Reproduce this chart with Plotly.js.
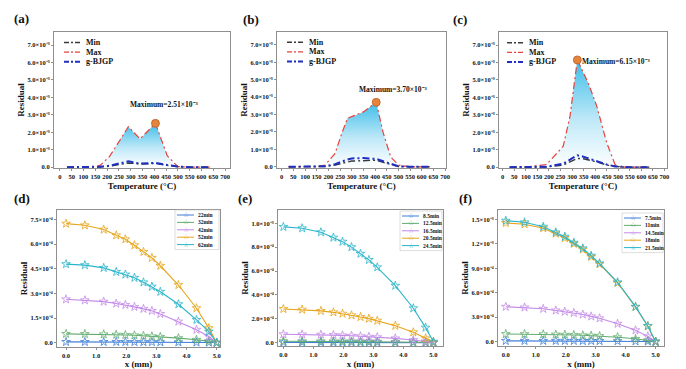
<!DOCTYPE html>
<html><head><meta charset="utf-8">
<script src="https://cdn.plot.ly/plotly-3.0.1.min.js"></script>
<style>html,body{margin:0;padding:0;background:#fff}#chart{width:686px;height:369px}</style>
</head><body><div id="chart"></div>
<script>
// ---------------- DATA ----------------
const topSeries = ['Min', 'Max', 'g-BJGP'];
const tempTicks = [0, 50, 100, 150, 200, 250, 300, 350, 400, 450, 500, 550, 600, 650, 700];

const tempA = [30, 100, 150, 170, 210, 250, 290, 340, 405, 455, 500, 550, 600, 635];
const maxA  = [0, 0, 0.00002, 0.0001, 0.0006, 0.00145, 0.00232, 0.00162, 0.00251, 0.00065, 0.00003, 0, 0, 0];
const minA  = [0, 0, 0, 0.00001, 0.00005, 0.00014, 0.00024, 0.00018, 0.00021, 0.0001, 0.00002, 0, 0, 0];
const bjgpA = [0, 0, 0, 0.00002, 0.00008, 0.0002, 0.00033, 0.0002, 0.00025, 0.00012, 0.00003, 0, 0, 0];

const tempB = [30, 100, 150, 186, 229, 257, 282, 300, 350, 405, 435, 467, 500, 550, 600, 635];
const maxB  = [0, 0, 0.00001, 0.0001, 0.00077, 0.0019, 0.00278, 0.00288, 0.00315, 0.0037, 0.00195, 0.00057, 0.0001, 0, 0, 0];
const minB  = [0, 0, 0, 0.00002, 0.0001, 0.0002, 0.0003, 0.00033, 0.00035, 0.00038, 0.00025, 0.00012, 0.00002, 0, 0, 0];
const bjgpB = [0, 0, 0, 0.00003, 0.00015, 0.0003, 0.00042, 0.00048, 0.0005, 0.00045, 0.00032, 0.00015, 0.00003, 0, 0, 0];

const tempC = [30, 100, 132, 190, 262, 291, 323, 349, 371, 407, 450, 486, 510, 550, 600, 635];
const maxC  = [0, 0, 0.00006, 0.00015, 0.0012, 0.0029, 0.00615, 0.0054, 0.0048, 0.0035, 0.0014, 0.00015, 0, 0, 0, 0];
const minC  = [0, 0, 0, 0.00001, 0.00012, 0.00032, 0.0005, 0.00048, 0.00042, 0.0003, 0.00012, 0.00003, 0.00001, 0, 0, 0];
const bjgpC = [0, 0, 0, 0.00002, 0.0002, 0.00045, 0.00068, 0.0006, 0.0005, 0.00035, 0.00015, 0.00004, 0.00001, 0, 0, 0];

const yTicksTop = [0, 0.001, 0.002, 0.003, 0.004, 0.005, 0.006, 0.007];
const yTextTop  = ['0.0', '1.0×10⁻³', '2.0×10⁻³', '3.0×10⁻³', '4.0×10⁻³', '5.0×10⁻³', '6.0×10⁻³', '7.0×10⁻³'];

const xPos = [0, 0.625, 1.25, 1.667, 1.97, 2.27, 2.57, 2.85, 3.13, 3.73, 4.33, 4.74, 5.0];
const xTicksBot = [0, 1, 2, 3, 4, 5];
const xTextBot = ['0.0', '1.0', '2.0', '3.0', '4.0', '5.0'];

const namesD = ['22min', '32min', '42min', '52min', '62min'];
const d22 = [0.000005, 0.000005, 0.000005, 0.000005, 0.000005, 0.0000045, 0.000004, 0.000004, 0.0000035, 0.000003, 0.000002, 0.000001, 0];
const d32 = [0.000054, 0.000053, 0.000051, 0.000049, 0.000047, 0.000045, 0.000042, 0.000039, 0.000036, 0.000028, 0.000018, 0.00001, 0];
const d42 = [0.000264, 0.000258, 0.00025, 0.000238, 0.00023, 0.000218, 0.000206, 0.000194, 0.000175, 0.000129, 0.000079, 0.000038, 0];
const d52 = [0.000724, 0.000714, 0.000688, 0.000653, 0.000629, 0.000593, 0.000552, 0.000516, 0.000468, 0.000351, 0.00021, 0.000089, 0];
const d62 = [0.000478, 0.000472, 0.000455, 0.000431, 0.000415, 0.000395, 0.000367, 0.000341, 0.00031, 0.000234, 0.000139, 0.000068, 0];
const yTicksD = [0, 0.00015, 0.0003, 0.00045, 0.0006, 0.00075];
const yTextD = ['0.0', '1.5×10⁻⁴', '3.0×10⁻⁴', '4.5×10⁻⁴', '6.0×10⁻⁴', '7.5×10⁻⁴'];

const namesE = ['8.5min', '12.5min', '16.5min', '20.5min', '24.5min'];
const e85  = [0.000002, 0.000002, 0.000002, 0.000002, 0.000002, 0.000002, 0.000002, 0.000002, 0.0000015, 0.0000012, 0.000001, 0.0000005, 0];
const e125 = [0.000012, 0.000012, 0.000011, 0.000011, 0.00001, 0.00001, 0.000009, 0.000009, 0.000008, 0.000006, 0.000004, 0.000002, 0];
const e165 = [0.00007, 0.000069, 0.000067, 0.000064, 0.000061, 0.000058, 0.000054, 0.00005, 0.000046, 0.000036, 0.000022, 0.00001, 0];
const e205 = [0.000282, 0.000277, 0.000266, 0.000254, 0.000243, 0.000229, 0.000215, 0.000201, 0.000184, 0.000142, 0.000087, 0.000037, 0.000005];
const e245 = [0.00097, 0.000958, 0.000925, 0.00088, 0.000846, 0.0008, 0.000745, 0.000693, 0.000631, 0.000477, 0.000288, 0.000126, 0.000008];
const yTicksE = [0, 0.0002, 0.0004, 0.0006, 0.0008, 0.001];
const yTextE = ['0.0', '2.0×10⁻⁴', '4.0×10⁻⁴', '6.0×10⁻⁴', '8.0×10⁻⁴', '1.0×10⁻³'];

const namesF = ['7.5min', '11min', '14.5min', '18min', '21.5min'];
const f75  = [0.00001, 0.00001, 0.00001, 0.00001, 0.00001, 0.00001, 0.000009, 0.000009, 0.000008, 0.000007, 0.000005, 0.000003, 0];
const f11  = [0.000094, 0.000093, 0.000091, 0.000088, 0.000085, 0.000082, 0.000078, 0.000074, 0.000069, 0.000055, 0.000035, 0.000017, 0];
const f145 = [0.000428, 0.00042, 0.000403, 0.000383, 0.000368, 0.000352, 0.000333, 0.00031, 0.000287, 0.00022, 0.00014, 0.000065, 0];
const f18  = [0.001455, 0.00144, 0.00139, 0.001325, 0.00127, 0.0012, 0.00113, 0.00104, 0.00095, 0.00072, 0.000425, 0.00019, 0];
const f215 = [0.001483, 0.001463, 0.001409, 0.00134, 0.001287, 0.001213, 0.001144, 0.001054, 0.000961, 0.000728, 0.000429, 0.000192, 0];
const yTicksF = [0, 0.0003, 0.0006, 0.0009, 0.0012, 0.0015];
const yTextF = ['0.0', '3.0×10⁻⁴', '6.0×10⁻⁴', '9.0×10⁻⁴', '1.2×10⁻³', '1.5×10⁻³'];

// ---------------- STYLE ----------------
const W = 686, H = 369;
const SERIF = 'Liberation Serif, Times New Roman, serif';
const topColors = ['#3a3a3a', '#e8433d', '#1f2fc0'];
const topWidths = [1.4, 1.2, 2.0];
const DASH = '7px,3px,2px,3px';
const botColors = ['#3f7fd8', '#62ad6e', '#c48ae8', '#e6a51c', '#2ab5cb'];

const traces = [];
function topPanel(xa, ya, temp, mn, mx, bj) {
  traces.push({x: temp, y: mx, xaxis: xa, yaxis: ya, mode: 'lines', name: topSeries[1],
    line: {color: topColors[1], width: topWidths[1], dash: DASH}, fill: 'tozeroy',
    fillgradient: {type: 'vertical', colorscale: [[0, 'rgba(255,255,255,1)'], [0.45, '#bde8f8'], [1, '#3dbde9']]},
    hoverinfo: 'skip'});
  traces.push({x: temp, y: mn, xaxis: xa, yaxis: ya, mode: 'lines', name: topSeries[0],
    line: {color: topColors[0], width: topWidths[0], dash: DASH}});
  traces.push({x: temp, y: bj, xaxis: xa, yaxis: ya, mode: 'lines', name: topSeries[2],
    line: {color: topColors[2], width: topWidths[2], dash: DASH}});
  const iMax = mx.indexOf(Math.max(...mx));
  traces.push({x: [temp[iMax]], y: [mx[iMax]], xaxis: xa, yaxis: ya, mode: 'markers',
    marker: {size: 8, color: '#e5843a', line: {color: '#b8612a', width: 0.8}}});
  return mx[iMax];
}
const peakA = topPanel('x', 'y', tempA, minA, maxA, bjgpA);
const peakB = topPanel('x2', 'y2', tempB, minB, maxB, bjgpB);
const peakC = topPanel('x3', 'y3', tempC, minC, maxC, bjgpC);

function botPanel(xa, ya, names, series) {
  series.forEach((s, i) => {
    traces.push({x: xPos, y: s, xaxis: xa, yaxis: ya, mode: 'lines+markers', name: names[i],
      line: {color: botColors[i], width: 1.1},
      marker: {symbol: 'star-open', size: 6.5, color: botColors[i], line: {width: 0.8}}});
  });
}
botPanel('x4', 'y4', namesD, [d22, d32, d42, d52, d62]);
botPanel('x5', 'y5', namesE, [e85, e125, e165, e205, e245]);
botPanel('x6', 'y6', namesF, [f75, f11, f145, f18, f215]);

const tickFont = {family: SERIF, size: 6.5, color: '#111', weight: 700};
const titleFont = {family: SERIF, size: 9, color: '#111', weight: 700};
const axBase = {showgrid: false, zeroline: false, showline: true, mirror: true, linecolor: '#8f8f8f', linewidth: 1,
  ticks: 'outside', ticklen: 2, tickcolor: '#8f8f8f', tickfont: tickFont, fixedrange: true, automargin: false, tickangle: 0};

const px = v => v / W, py = v => 1 - v / H;
function xa(l, r, range, tv, tt, anchor, title) {
  return Object.assign({}, axBase, {domain: [px(l), px(r)], range: range, tickmode: 'array', tickvals: tv, ticktext: tt,
    anchor: anchor, title: {text: title, font: titleFont, standoff: 3}});
}
function ya(t, b, range, tv, tt, anchor) {
  return Object.assign({}, axBase, {domain: [py(b), py(t)], range: range, tickmode: 'array', tickvals: tv, ticktext: tt,
    anchor: anchor, title: {text: 'Residual', font: titleFont, standoff: 1}});
}
const tempText = tempTicks.map(String);

const layout = {
  width: W, height: H, margin: {l: 0, r: 0, t: 0, b: 0}, paper_bgcolor: '#fff', plot_bgcolor: '#fff', showlegend: false,
  font: {family: SERIF},
  xaxis:  xa(54, 230, [-25, 721], tempTicks, tempText, 'y', 'Temperature (°C)'),
  yaxis:  ya(32, 168, [-0.00005, 0.00775], yTicksTop, yTextTop, 'x'),
  xaxis2: xa(277, 446, [-20, 704], tempTicks, tempText, 'y2', 'Temperature (°C)'),
  yaxis2: ya(32, 168, [-0.00007, 0.00774], yTicksTop, yTextTop, 'x2'),
  xaxis3: xa(499, 667, [-16, 711], tempTicks, tempText, 'y3', 'Temperature (°C)'),
  yaxis3: ya(32, 168, [-0.00005, 0.00775], yTicksTop, yTextTop, 'x3'),
  xaxis4: xa(57, 220, [-0.3, 5.11], xTicksBot, xTextBot, 'y4', 'x (mm)'),
  yaxis4: ya(210, 347, [-0.000026, 0.000807], yTicksD, yTextD, 'x4'),
  xaxis5: xa(278, 443, [-0.18, 5.32], xTicksBot, xTextBot, 'y5', 'x (mm)'),
  yaxis5: ya(210, 346, [-0.000028, 0.001111], yTicksE, yTextE, 'x5'),
  xaxis6: xa(498, 664, [-0.26, 5.28], xTicksBot, xTextBot, 'y6', 'x (mm)'),
  yaxis6: ya(210, 346, [-0.000053, 0.001614], yTicksF, yTextF, 'x6'),
  shapes: [], annotations: []
};

// panel letters
const letters = [['(a)', 12, 19], ['(b)', 241, 20], ['(c)', 451, 20], ['(d)', 12, 198], ['(e)', 236, 198], ['(f)', 457, 198]];
letters.forEach(([t, x, y]) => layout.annotations.push({text: t, xref: 'paper', yref: 'paper', x: px(x), y: py(y),
  xanchor: 'left', yanchor: 'middle', showarrow: false, font: {family: SERIF, size: 13, color: '#111', weight: 700}}));

// maximum labels
const fmtMax = v => 'Maximum=' + (v * 1000).toFixed(2) + '×10⁻³';
[[peakA, 'x', 'y', 445, 0.00362], [peakB, 'x2', 'y2', 478, 0.00445], [peakC, 'x3', 'y3', 493, 0.00606]].forEach(([v, xr, yr, x, y]) =>
  layout.annotations.push({text: fmtMax(v), xref: xr, yref: yr, x: x, y: y, showarrow: false, xanchor: 'center', yanchor: 'middle',
    font: {family: SERIF, size: 7.5, color: '#111', weight: 700}}));

// top legends (Min, Max, g-BJGP)
const topOrder = [0, 1, 2];
[[64, 42.5], [287, 42.3], [507, 42.7]].forEach(([x0, y0]) => {
  topOrder.forEach((k, i) => {
    const y = y0 + i * 9.6;
    layout.shapes.push({type: 'line', xref: 'paper', yref: 'paper', x0: px(x0), x1: px(x0 + 18), y0: py(y), y1: py(y),
      line: {color: topColors[k], width: topWidths[k], dash: '5px,2px,2px,2px'}});
    layout.annotations.push({text: topSeries[k], xref: 'paper', yref: 'paper', x: px(x0 + 19.5), y: py(y), xanchor: 'left', yanchor: 'middle',
      showarrow: false, font: {family: SERIF, size: 8, color: '#111', weight: 700}});
  });
});

// bottom legends
[[namesD, 220, 215, 175], [namesE, 443, 216, 400], [namesF, 664, 218, 622]].forEach(([names, right, y0, boxL]) => {
  layout.shapes.push({type: 'rect', xref: 'paper', yref: 'paper', x0: px(boxL), x1: px(right - 1), y0: py(y0 - 5), y1: py(y0 + 4 * 7.4 + 5),
    line: {color: '#c8c8c8', width: 0.6}, fillcolor: 'rgba(0,0,0,0)'});
  names.forEach((n, i) => {
    const y = y0 + i * 7.4;
    const lx = boxL + 2;
    layout.shapes.push({type: 'line', xref: 'paper', yref: 'paper', x0: px(lx), x1: px(lx + 17), y0: py(y), y1: py(y),
      line: {color: botColors[i], width: 1}});
    layout.annotations.push({text: '☆', xref: 'paper', yref: 'paper', x: px(lx + 8.5), y: py(y), xanchor: 'center', yanchor: 'middle',
      showarrow: false, font: {family: 'DejaVu Sans', size: 7, color: botColors[i]}});
    layout.annotations.push({text: n, xref: 'paper', yref: 'paper', x: px(lx + 18.5), y: py(y), xanchor: 'left', yanchor: 'middle',
      showarrow: false, font: {family: SERIF, size: 5.5, color: '#111', weight: 700}});
  });
});

Plotly.newPlot('chart', traces, layout, {staticPlot: true, displayModeBar: false});
</script></body></html>
